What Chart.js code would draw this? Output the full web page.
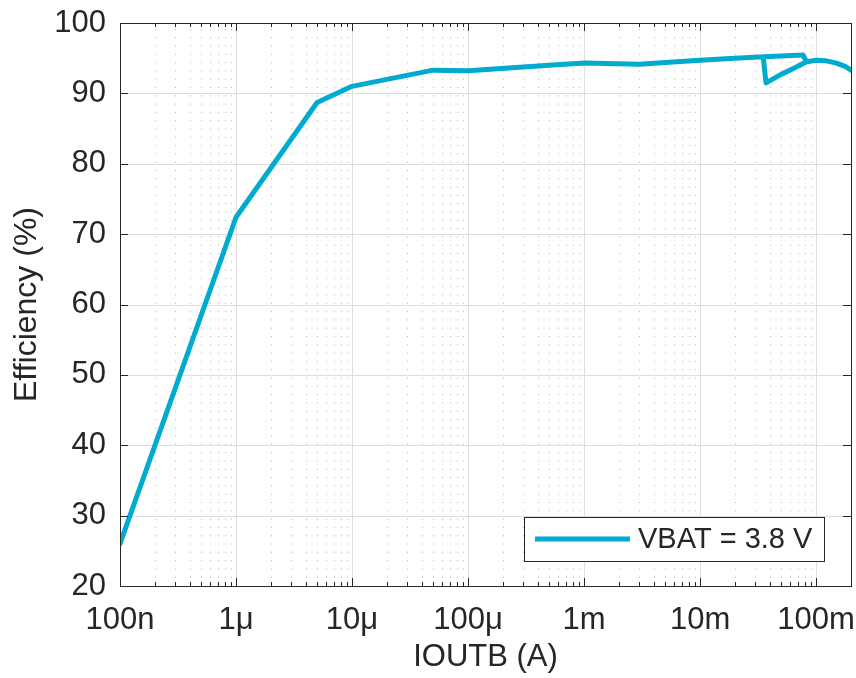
<!DOCTYPE html>
<html>
<head>
<meta charset="utf-8">
<script src="https://cdn.jsdelivr.net/npm/chart.js@4.4.1/dist/chart.umd.min.js"></script>
<style>
  html, body { margin: 0; padding: 0; background: #fff; }
  #wrap { width: 856px; height: 678px; }
</style>
</head>
<body>
<div id="wrap"><canvas id="eff-chart" width="856" height="678"></canvas></div>
<script>
// load current (A) and efficiency (%)
// null splits the light-load sweep from the heavy-load sweep that starts near 37 mA
const currentA = [1e-7, 1e-6, 5e-6, 1e-5, 5e-5, 1e-4, 5e-4, 1e-3, 3e-3, 5e-3, 1e-2, 2e-2, 3.5e-2, 5e-2, 7.7e-2, 8.3e-2,
                  null,
                  3.5e-2, 3.7e-2, 5e-2, 6.5e-2, 8.3e-2, 1e-1, 1.2e-1, 1.5e-1, 1.8e-1, 2e-1];
const efficiency = [26.0, 72.4, 88.7, 91.0, 93.3, 93.2, 94.0, 94.3, 94.15, 94.4, 94.7, 95.0, 95.2, 95.3, 95.45, 94.5,
                    null,
                    95.2, 91.5, 92.7, 93.6, 94.5, 94.7, 94.65, 94.3, 93.8, 93.3];

const decadeTicks = [1e-7, 1e-6, 1e-5, 1e-4, 1e-3, 1e-2, 1e-1];
const decadeLabels = ['100n', '1\u03bc', '10\u03bc', '100\u03bc', '1m', '10m', '100m'];
const seriesLabel = 'VBAT = 3.8 V';

const lineColor = '#00abcf';
const inkColor = '#262626';
const fontFamily = '"Liberation Sans", Arial, Helvetica, sans-serif';

const points = currentA.map((x, i) => (x === null ? { x: 1e-2, y: null } : { x: x, y: efficiency[i] }));

// minor positions 2..9 x 10^n inside the x range
function minorTicks(scale) {
    let out = [];
    for (let e = -7; e <= -1; e++) {
        for (let m = 2; m <= 9; m++) {
            let v = m * Math.pow(10, e);
            if (v < scale.min || v > scale.max) continue;
            out.push(v);
        }
    }
    return out;
}

const frame = {
    id: 'frame',
    beforeDatasetsDraw(chart) {
        const { ctx, chartArea: a, scales: { x, y } } = chart;
        ctx.save();
        // dotted minor grid
        ctx.strokeStyle = '#b4b4b4';
        ctx.lineWidth = 1;
        ctx.setLineDash([1, 7.3]);
        minorTicks(x).forEach(v => {
            let px = Math.round(x.getPixelForValue(v)) + 0.5;
            ctx.beginPath(); ctx.moveTo(px, a.bottom); ctx.lineTo(px, a.top); ctx.stroke();
        });
        // solid major grid
        ctx.setLineDash([]);
        ctx.strokeStyle = '#dedede';
        decadeTicks.forEach(v => {
            let px = Math.round(x.getPixelForValue(v)) + 0.5;
            ctx.beginPath(); ctx.moveTo(px, a.top); ctx.lineTo(px, a.bottom); ctx.stroke();
        });
        y.ticks.forEach(t => {
            let py = Math.round(y.getPixelForValue(t.value)) + 0.5;
            ctx.beginPath(); ctx.moveTo(a.left, py); ctx.lineTo(a.right, py); ctx.stroke();
        });
        ctx.restore();
    },
    afterDraw(chart) {
        const { ctx, chartArea: a, scales: { x, y } } = chart;
        ctx.save();
        ctx.strokeStyle = inkColor;
        ctx.lineWidth = 1;
        // box
        ctx.strokeRect(Math.round(a.left) + 0.5, Math.round(a.top) + 0.5,
                       Math.round(a.right - a.left), Math.round(a.bottom - a.top));
        // inside tick marks
        ctx.beginPath();
        decadeTicks.forEach(v => {
            let px = Math.round(x.getPixelForValue(v)) + 0.5;
            ctx.moveTo(px, a.bottom); ctx.lineTo(px, a.bottom - 8);
            ctx.moveTo(px, a.top); ctx.lineTo(px, a.top + 8);
        });
        minorTicks(x).forEach(v => {
            let px = Math.round(x.getPixelForValue(v)) + 0.5;
            ctx.moveTo(px, a.bottom); ctx.lineTo(px, a.bottom - 4);
            ctx.moveTo(px, a.top); ctx.lineTo(px, a.top + 4);
        });
        y.ticks.forEach(t => {
            let py = Math.round(y.getPixelForValue(t.value)) + 0.5;
            ctx.moveTo(a.left, py); ctx.lineTo(a.left + 8, py);
            ctx.moveTo(a.right, py); ctx.lineTo(a.right - 8, py);
        });
        ctx.stroke();

        // legend box, bottom right inside the axes
        let lx = 524, ly = 517, lw = 300, lh = 44;
        ctx.fillStyle = '#fff';
        ctx.fillRect(lx, ly, lw, lh);
        ctx.strokeRect(lx + 0.5, ly + 0.5, lw, lh);
        ctx.strokeStyle = lineColor;
        ctx.lineWidth = 5;
        ctx.beginPath(); ctx.moveTo(lx + 11, ly + 22); ctx.lineTo(lx + 106, ly + 22); ctx.stroke();
        ctx.fillStyle = inkColor;
        ctx.font = '29px ' + fontFamily;
        ctx.textBaseline = 'middle';
        ctx.fillText(chart.data.datasets[0].label, lx + 114, ly + 23);
        ctx.restore();
    }
};

new Chart(document.getElementById('eff-chart').getContext('2d'), {
    type: 'line',
    data: {
        datasets: [{
            label: seriesLabel,
            data: points,
            borderColor: lineColor,
            backgroundColor: lineColor,
            borderWidth: 5,
            pointRadius: 0,
            tension: 0,
            spanGaps: false,
            borderJoinStyle: 'round',
            borderCapStyle: 'round'
        }]
    },
    options: {
        responsive: false,
        animation: false,
        layout: { padding: { top: 23, right: 5, left: 0, bottom: 0 } },
        plugins: { legend: { display: false }, tooltip: { enabled: false } },
        scales: {
            x: {
                type: 'logarithmic',
                min: 1e-7,
                max: 0.2,
                afterBuildTicks: scale => { scale.ticks = decadeTicks.map(v => ({ value: v })); },
                afterFit: scale => {
                    scale.height = 92;
                    scale.paddingLeft = 0;
                    scale.paddingRight = 0;
                },
                grid: { display: false, drawTicks: false },
                border: { display: false },
                ticks: {
                    color: inkColor,
                    font: { family: fontFamily, size: 31 },
                    padding: 16,
                    maxRotation: 0,
                    autoSkip: false,
                    callback: value => decadeLabels[decadeTicks.findIndex(d => Math.abs(d - value) / d < 1e-6)]
                },
                title: {
                    display: true,
                    text: 'IOUTB (A)',
                    color: inkColor,
                    font: { family: fontFamily, size: 31 },
                    padding: { top: 0, bottom: 2 }
                }
            },
            y: {
                min: 20,
                max: 100,
                afterFit: scale => {
                    scale.width = 120;
                    scale.paddingTop = 0;
                    scale.paddingBottom = 0;
                },
                grid: { display: false, drawTicks: false },
                border: { display: false },
                ticks: {
                    stepSize: 10,
                    color: inkColor,
                    font: { family: fontFamily, size: 31 },
                    padding: 14
                },
                title: {
                    display: true,
                    text: 'Efficiency (%)',
                    color: inkColor,
                    font: { family: fontFamily, size: 32 },
                    padding: { top: 8, bottom: 0 }
                }
            }
        }
    },
    plugins: [frame]
});
</script>
</body>
</html>
